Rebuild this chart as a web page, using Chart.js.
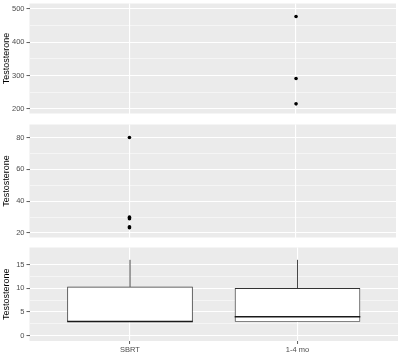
<!DOCTYPE html>
<html>
<head>
<meta charset="utf-8">
<script src="https://cdn.jsdelivr.net/npm/chart.js@4"></script>
<style>
html, body { margin: 0; padding: 0; background: #fff; }
#wrap { position: relative; width: 400px; height: 352px; overflow: hidden; }
canvas { position: absolute; left: 0; }
</style>
</head>
<body>
<div id="wrap">
  <canvas id="panelTop" width="400" height="123" style="top:-3px"></canvas>
  <canvas id="panelMid" width="400" height="126" style="top:118px"></canvas>
  <canvas id="panelBox" width="400" height="111" style="top:241px"></canvas>
</div>
<script>
// groups on the x axis
const groups = ['SBRT', '1-4 mo'];
const groupPos = [1, 2];

// outliers per group
const sbrtOutliers = [80, 30, 29, 24, 23.3];
const mo14Outliers = [477, 291, 215];

// box summary per group
const boxMin = [3, 3];
const boxQ1 = [3, 3];
const boxMedian = [3, 4];
const boxQ3 = [10.3, 10];
const boxMax = [16, 16];
const boxWidth = 0.75;

// y ticks of each panel (majors labelled, minors only grid)
const topTicks = [200, 300, 400, 500];
const topMinor = [250, 350, 450];
const midTicks = [20, 40, 60, 80];
const midMinor = [30, 50, 70];
const boxTicks = [0, 5, 10, 15];
const boxMinor = [2.5, 7.5, 12.5];

const TICK_FONT = { family: 'Liberation Sans, Arial, sans-serif', size: 7.5 };
const TITLE_FONT = { family: 'Liberation Sans, Arial, sans-serif', size: 9 };

// grey panel background
const panelBg = {
    id: 'panelBg',
    beforeDraw(chart) {
        const a = chart.chartArea;
        const ctx = chart.ctx;
        ctx.save();
        ctx.fillStyle = '#EBEBEB';
        ctx.fillRect(a.left, a.top, a.right - a.left, a.bottom - a.top);
        ctx.restore();
    }
};

function yAxis(min, max, majors, minors) {
    return {
        type: 'linear',
        min: min,
        max: max,
        afterBuildTicks: s => {
            s.ticks = majors.concat(minors).sort((a, b) => a - b).map(v => ({ value: v }));
        },
        afterFit: s => { s.width = 29.5; },
        ticks: {
            color: '#4D4D4D',
            font: TICK_FONT,
            padding: 2,
            callback: v => majors.includes(v) ? v : ''
        },
        grid: {
            color: '#ffffff',
            lineWidth: c => majors.includes(c.tick.value) ? 1.1 : 0.5,
            tickColor: c => majors.includes(c.tick.value) ? '#333333' : 'rgba(0,0,0,0)',
            tickWidth: 0.8,
            tickLength: 3
        },
        border: { display: false },
        title: {
            display: true,
            text: 'Testosterone',
            color: '#000000',
            font: TITLE_FONT,
            padding: { top: 1, bottom: 0 }
        }
    };
}

function xAxis(showLabels) {
    return {
        type: 'linear',
        min: 0.4,
        max: 2.6,
        offset: false,
        afterBuildTicks: s => { s.ticks = groupPos.map(v => ({ value: v })); },
        afterFit: s => { s.height = showLabels ? 11 : 0; },
        ticks: {
            display: showLabels,
            color: '#4D4D4D',
            font: TICK_FONT,
            padding: 1,
            maxRotation: 0,
            callback: v => groups[groupPos.indexOf(v)]
        },
        grid: {
            offset: false,
            color: '#ffffff',
            lineWidth: 1.1,
            drawTicks: showLabels,
            tickColor: '#333333',
            tickWidth: 0.8,
            tickLength: 3
        },
        border: { display: false }
    };
}

const baseOptions = {
    responsive: false,
    devicePixelRatio: 1,
    animation: false,
    plugins: { legend: { display: false }, tooltip: { enabled: false } }
};

// outlier points, split by the panel range they fall in
function outlierPoints(lo, hi) {
    const pts = [];
    sbrtOutliers.forEach(v => { if (v >= lo && v <= hi) pts.push({ x: groupPos[0], y: v }); });
    mo14Outliers.forEach(v => { if (v >= lo && v <= hi) pts.push({ x: groupPos[1], y: v }); });
    return pts;
}

function pointChart(canvasId, min, max, majors, minors, pad) {
    new Chart(document.getElementById(canvasId), {
        type: 'scatter',
        data: {
            datasets: [{
                data: outlierPoints(min, max),
                backgroundColor: '#000000',
                borderWidth: 0,
                pointRadius: 1.8
            }]
        },
        options: Object.assign({}, baseOptions, {
            layout: { padding: pad },
            scales: { x: xAxis(false), y: yAxis(min, max, majors, minors) }
        }),
        plugins: [panelBg]
    });
}

pointChart('panelTop', 186, 516, topTicks, topMinor, { top: 6, bottom: 6, left: 0, right: 2 });
pointChart('panelMid', 17.2, 88.2, midTicks, midMinor, { top: 6, bottom: 6, left: 0, right: 2 });

// box plot panel
const medianLine = [];
const whiskerLine = [];
groupPos.forEach((x, i) => {
    medianLine.push({ x: x - boxWidth / 2, y: boxMedian[i] }, { x: x + boxWidth / 2, y: boxMedian[i] }, { x: x, y: null });
    whiskerLine.push({ x: x, y: boxQ3[i] }, { x: x, y: boxMax[i] }, { x: x, y: null });
    whiskerLine.push({ x: x, y: boxMin[i] }, { x: x, y: boxQ1[i] }, { x: x, y: null });
});

new Chart(document.getElementById('panelBox'), {
    type: 'bar',
    data: {
        datasets: [
            {
                type: 'line',
                data: medianLine,
                borderColor: '#1A1A1A',
                borderWidth: 1.6,
                pointRadius: 0,
                spanGaps: false,
                fill: false
            },
            {
                type: 'bar',
                data: groupPos.map((x, i) => ({ x: x, y: [boxQ1[i], boxQ3[i]] })),
                backgroundColor: '#ffffff',
                borderColor: '#333333',
                borderWidth: 0.9,
                borderSkipped: false,
                barThickness: 125
            },
            {
                type: 'line',
                data: whiskerLine,
                borderColor: '#333333',
                borderWidth: 0.9,
                pointRadius: 0,
                spanGaps: false,
                fill: false
            }
        ]
    },
    options: Object.assign({}, baseOptions, {
        layout: { padding: { top: 6, bottom: 0, left: 0, right: 2 } },
        scales: { x: xAxis(true), y: yAxis(-1.1, 18.6, boxTicks, boxMinor) }
    }),
    plugins: [panelBg]
});
</script>
</body>
</html>
